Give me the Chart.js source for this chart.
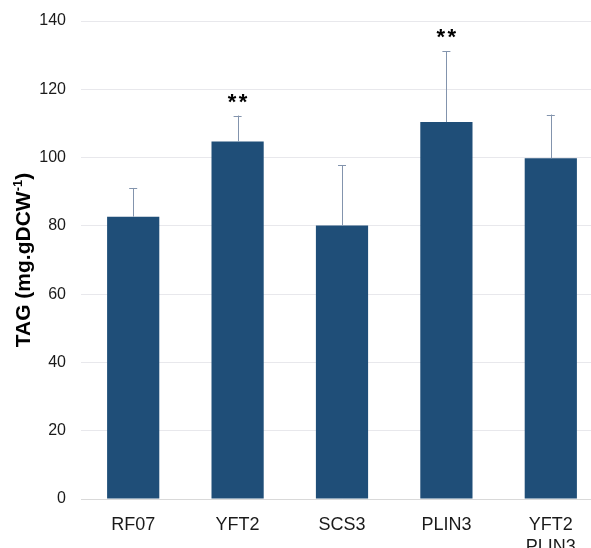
<!DOCTYPE html>
<html>
<head>
<meta charset="utf-8">
<script src="https://cdn.jsdelivr.net/npm/chart.js@4"></script>
<style>
  html, body { margin: 0; padding: 0; background: #fff; overflow: hidden; }
  #wrap { position: relative; width: 603px; height: 548px; }
</style>
</head>
<body>
<div id="wrap"><canvas id="tagChart"></canvas></div>
<script>
        // Data
        const strains = ['RF07', 'YFT2', 'SCS3', 'PLIN3', ['YFT2', 'PLIN3']];
        const tagMeans = [82.7, 104.7, 80.1, 110.4, 99.8];
        const tagErrors = [8.4, 7.6, 17.6, 20.8, 12.8];
        const significance = ['', '**', '', '**', ''];
        const yTicks = [0, 20, 40, 60, 80, 100, 120, 140];

        const FONT = '"Liberation Sans", Arial, sans-serif';

        // Error bars + significance stars
        const errorBarPlugin = {
            id: 'errorBars',
            afterDatasetsDraw(chart) {
                const ctx = chart.ctx;
                const meta = chart.getDatasetMeta(0);
                const y = chart.scales.y;
                ctx.save();
                meta.data.forEach((bar, i) => {
                    const top = y.getPixelForValue(tagMeans[i] + tagErrors[i]);
                    const base = y.getPixelForValue(tagMeans[i]);
                    ctx.strokeStyle = '#8394ad';
                    ctx.lineWidth = 1;
                    ctx.beginPath();
                    ctx.moveTo(Math.round(bar.x) + 0.5, base);
                    ctx.lineTo(Math.round(bar.x) + 0.5, top);
                    ctx.moveTo(bar.x - 4, Math.round(top) + 0.5);
                    ctx.lineTo(bar.x + 4, Math.round(top) + 0.5);
                    ctx.stroke();
                    if (significance[i]) {
                        ctx.fillStyle = '#000';
                        ctx.font = 'bold 22px ' + FONT;
                        ctx.textAlign = 'center';
                        ctx.textBaseline = 'middle';
                        const stars = significance[i].split('');
                        stars.forEach((s, k) => {
                            const dx = (k - (stars.length - 1) / 2) * 11;
                            ctx.fillText(s, bar.x + dx, top - 13);
                        });
                    }
                });
                ctx.restore();
            }
        };

        // Y title with superscript
        const yTitlePlugin = {
            id: 'yTitle',
            afterDraw(chart) {
                const ctx = chart.ctx;
                const main = 'TAG (mg.gDCW';
                const sup = '-1';
                const close = ')';
                const big = 'bold 21px ' + FONT;
                const small = 'bold 13px ' + FONT;
                ctx.save();
                ctx.translate(24, 260);
                ctx.rotate(-Math.PI / 2);
                ctx.fillStyle = '#000';
                ctx.textBaseline = 'middle';
                ctx.font = big;
                const w1 = ctx.measureText(main).width;
                const w3 = ctx.measureText(close).width;
                ctx.font = small;
                const w2 = ctx.measureText(sup).width;
                let x = -(w1 + w2 + w3) / 2;
                ctx.textAlign = 'left';
                ctx.font = big;
                ctx.fillText(main, x, 0);
                x += w1;
                ctx.font = small;
                ctx.fillText(sup, x, -6);
                x += w2;
                ctx.font = big;
                ctx.fillText(close, x, 0);
                ctx.restore();
            }
        };

        const ctx = document.getElementById('tagChart').getContext('2d');
        new Chart(ctx, {
            type: 'bar',
            data: {
                labels: strains,
                datasets: [{
                    label: 'TAG',
                    data: tagMeans,
                    backgroundColor: '#1f4e78',
                    borderWidth: 0,
                    categoryPercentage: 1,
                    barPercentage: 0.5
                }]
            },
            options: {
                responsive: true,
                maintainAspectRatio: false,
                animation: false,
                layout: { padding: { top: 21, right: 0, left: 0, bottom: 0 } },
                plugins: {
                    legend: { display: false },
                    tooltip: { enabled: false }
                },
                scales: {
                    x: {
                        grid: { display: false, drawTicks: false },
                        border: { display: true, color: '#d9d9d9', width: 1 },
                        ticks: {
                            color: '#1a1a1a',
                            padding: 15,
                            maxRotation: 0,
                            autoSkip: false,
                            font: { family: FONT, size: 18, lineHeight: 1.22 }
                        },
                        afterFit: scale => { scale.height = 49; scale.paddingLeft = 0; scale.paddingRight = 0; }
                    },
                    y: {
                        min: 0,
                        max: 140,
                        afterBuildTicks: scale => { scale.ticks = yTicks.map(v => ({ value: v })); },
                        grid: { color: '#e8e8ec', drawTicks: false },
                        border: { display: false },
                        ticks: {
                            color: '#1a1a1a',
                            padding: 15,
                            font: { family: FONT, size: 16 }
                        },
                        afterFit: scale => { scale.width = 81; scale.paddingTop = 0; scale.paddingBottom = 0; }
                    }
                }
            },
            plugins: [errorBarPlugin, yTitlePlugin]
        });
</script>
</body>
</html>
